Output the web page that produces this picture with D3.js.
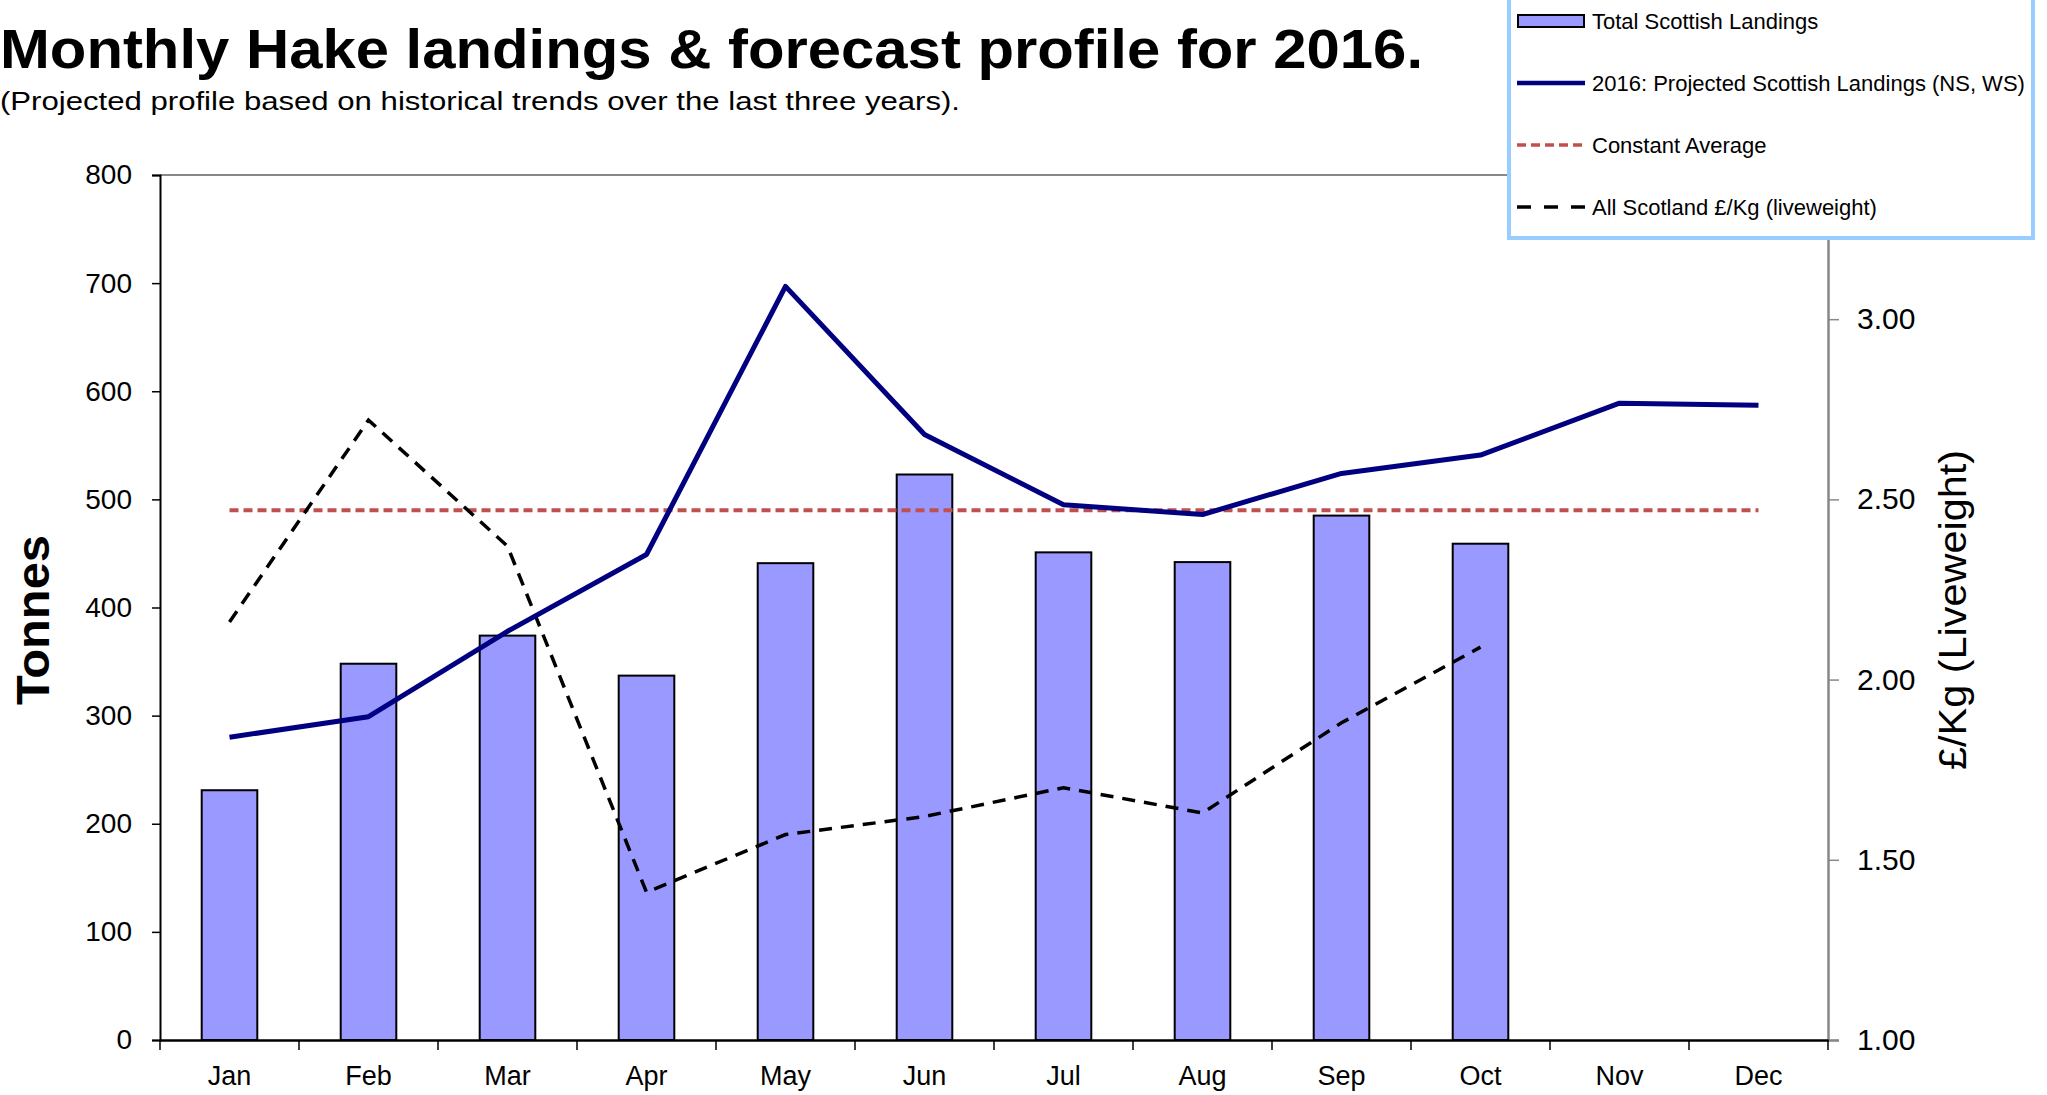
<!DOCTYPE html>
<html>
<head>
<meta charset="utf-8">
<script src="https://cdn.jsdelivr.net/npm/d3@7"></script>
<style>
  body { margin: 0; background: #fff; }
  text { font-family: "Liberation Sans", Arial, sans-serif; }
</style>
</head>
<body>
<script>
// chart data
const months = ["Jan", "Feb", "Mar", "Apr", "May", "Jun", "Jul", "Aug", "Sep", "Oct", "Nov", "Dec"];
const landings = [231, 348, 374, 337, 441, 523, 451, 442, 485, 459];
const projected = [280, 299, 378, 449, 697, 560, 495, 486, 524, 541, 589, 587];
const constantAverage = 490;
const pricePerKg = [2.16, 2.72, 2.37, 1.41, 1.57, 1.62, 1.70, 1.63, 1.88, 2.09];
const leftTicks = [0, 100, 200, 300, 400, 500, 600, 700, 800];
const rightTicks = [1.0, 1.5, 2.0, 2.5, 3.0];
const legendLabels = ["Total Scottish Landings", "2016: Projected Scottish Landings (NS, WS)",
    "Constant Average", "All Scotland \u00a3/Kg (liveweight)"];

// size of the page
const width = 2047;
const height = 1095;
const plot = { left: 160, right: 1828, top: 175, bottom: 1040 };

let svg = d3.select("body")
    .append("svg")
    .attr("width", width)
    .attr("height", height);

// scales
const x = d3.scaleBand()
    .domain(months)
    .range([plot.left, plot.right])
    .padding(0);
const yLeft = d3.scaleLinear()
    .domain([0, 800])
    .range([plot.bottom, plot.top]);
const yRight = d3.scaleLinear()
    .domain([1, 3.4])
    .range([plot.bottom, plot.top]);

const center = m => x(m) + x.bandwidth() / 2;

// top frame line
svg.append("line")
    .attr("x1", plot.left).attr("x2", plot.right)
    .attr("y1", plot.top).attr("y2", plot.top)
    .style("stroke", "#888")
    .style("stroke-width", 2);

// bars
const barW = x.bandwidth() * 0.4;
svg.selectAll("rect.bar")
    .data(landings)
    .enter()
    .append("rect")
    .attr("class", "bar")
    .attr("x", (d, i) => center(months[i]) - barW / 2)
    .attr("y", d => yLeft(d))
    .attr("width", barW)
    .attr("height", d => yLeft(0) - yLeft(d))
    .style("fill", "#9999ff")
    .style("stroke", "#000")
    .style("stroke-width", 2);

// constant average line
svg.append("path")
    .datum(months)
    .attr("d", d3.line().x(m => center(m)).y(() => yLeft(constantAverage)))
    .style("fill", "none")
    .style("stroke", "#c0504d")
    .style("stroke-width", 4)
    .style("stroke-dasharray", "9,5");

// price line (right axis)
svg.append("path")
    .datum(pricePerKg)
    .attr("d", d3.line().x((d, i) => center(months[i])).y(d => yRight(d)))
    .style("fill", "none")
    .style("stroke", "#000")
    .style("stroke-width", 3.5)
    .style("stroke-dasharray", "13,9");

// projected landings
svg.append("path")
    .datum(projected)
    .attr("d", d3.line().x((d, i) => center(months[i])).y(d => yLeft(d)))
    .style("fill", "none")
    .style("stroke", "#000080")
    .style("stroke-width", 5)
    .style("stroke-linejoin", "round");

// left axis
let gLeft = svg.append("g")
    .attr("transform", "translate(" + plot.left + ",0)")
    .call(d3.axisLeft(yLeft).tickValues(leftTicks).tickSize(8).tickPadding(20).tickFormat(d3.format("d")));
gLeft.select(".domain").style("stroke", "#000").style("stroke-width", 2);
gLeft.selectAll(".tick line").style("stroke", "#000").style("stroke-width", 1.5);
gLeft.selectAll(".tick text").style("font-size", "28px").style("fill", "#000");

// right axis
let gRight = svg.append("g")
    .attr("transform", "translate(" + plot.right + ",0)")
    .call(d3.axisRight(yRight).tickValues(rightTicks).tickSize(11).tickPadding(18).tickFormat(d3.format(".2f")));
gRight.select(".domain").style("stroke", "#888").style("stroke-width", 2.5);
gRight.selectAll(".tick line").style("stroke", "#888").style("stroke-width", 1.5);
gRight.selectAll(".tick text").style("font-size", "30px").style("fill", "#000");

// bottom axis
let gBottom = svg.append("g")
    .attr("transform", "translate(0," + plot.bottom + ")")
    .call(d3.axisBottom(x).tickSize(0).tickPadding(26));
gBottom.select(".domain").style("stroke", "#000").style("stroke-width", 2.5);
gBottom.selectAll(".tick text").style("font-size", "27px").style("fill", "#000");

// category boundary ticks
const bounds = months.map(m => x(m)).concat([plot.right]);
gBottom.selectAll("line.bound")
    .data(bounds)
    .enter()
    .append("line")
    .attr("class", "bound")
    .attr("x1", d => d).attr("x2", d => d)
    .attr("y1", 0).attr("y2", 10)
    .style("stroke", "#000")
    .style("stroke-width", 1.5);

// title
svg.append("text")
    .attr("x", 0)
    .attr("y", 68)
    .attr("textLength", 1423)
    .attr("lengthAdjust", "spacingAndGlyphs")
    .style("font-size", "56px")
    .style("font-weight", "bold")
    .text("Monthly Hake landings & forecast profile for 2016.");

svg.append("text")
    .attr("x", 0)
    .attr("y", 110)
    .attr("textLength", 960)
    .attr("lengthAdjust", "spacingAndGlyphs")
    .style("font-size", "26px")
    .text("(Projected profile based on historical trends over the last three years).");

// y labels
svg.append("text")
    .attr("transform", "translate(49,620) rotate(-90)")
    .attr("text-anchor", "middle")
    .attr("textLength", 170)
    .attr("lengthAdjust", "spacingAndGlyphs")
    .style("font-size", "46px")
    .style("font-weight", "bold")
    .text("Tonnes");

svg.append("text")
    .attr("transform", "translate(1966,610) rotate(-90)")
    .attr("text-anchor", "middle")
    .attr("textLength", 320)
    .attr("lengthAdjust", "spacingAndGlyphs")
    .style("font-size", "38px")
    .text("\u00a3/Kg (Liveweight)");

// legend
let legend = svg.append("g");
legend.append("rect")
    .attr("x", 1509).attr("y", -6)
    .attr("width", 524).attr("height", 244)
    .style("fill", "#fff")
    .style("stroke", "#99ccff")
    .style("stroke-width", 4);

const legendY = [21, 83, 145, 207];
legend.append("rect")
    .attr("x", 1518).attr("y", legendY[0] - 6)
    .attr("width", 66).attr("height", 12)
    .style("fill", "#9999ff")
    .style("stroke", "#000")
    .style("stroke-width", 2);
legend.append("line")
    .attr("x1", 1517).attr("x2", 1585)
    .attr("y1", legendY[1]).attr("y2", legendY[1])
    .style("stroke", "#000080").style("stroke-width", 4.5);
legend.append("line")
    .attr("x1", 1517).attr("x2", 1585)
    .attr("y1", legendY[2]).attr("y2", legendY[2])
    .style("stroke", "#c0504d").style("stroke-width", 3.5)
    .style("stroke-dasharray", "9,5");
legend.append("line")
    .attr("x1", 1517).attr("x2", 1585)
    .attr("y1", legendY[3]).attr("y2", legendY[3])
    .style("stroke", "#000").style("stroke-width", 3.5)
    .style("stroke-dasharray", "14,13");

legend.selectAll("text")
    .data(legendLabels)
    .enter()
    .append("text")
    .attr("x", 1592)
    .attr("y", (d, i) => legendY[i] + 8)
    .style("font-size", "22px")
    .text(d => d);
</script>
</body>
</html>
